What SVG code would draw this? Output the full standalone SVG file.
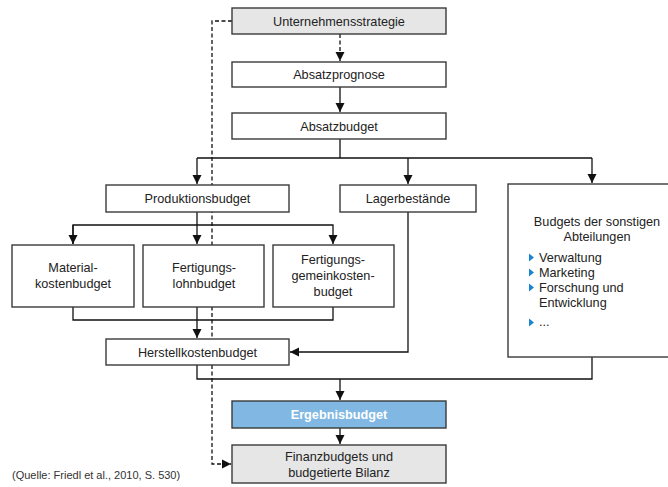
<svg xmlns="http://www.w3.org/2000/svg" width="668" height="487" viewBox="0 0 668 487">
<defs>
<marker id="ah" markerUnits="userSpaceOnUse" markerWidth="10" markerHeight="10" refX="9" refY="5" orient="auto">
<path d="M0,0.5 L9,5 L0,9.5 Z" fill="#111"/>
</marker>
<style>
.box{fill:#fff;stroke:#3a3a3a;stroke-width:1.4}
.gray{fill:#e6e6e6}
.blue{fill:#80b8e3}
text{font-family:"Liberation Sans",Arial,sans-serif;font-size:12.7px;fill:#222;text-anchor:middle}
.lt{text-anchor:start}
.w{fill:#fff;font-weight:bold}
.src{font-size:11px;text-anchor:start;fill:#333}
.c{fill:none;stroke:#111;stroke-width:1.3}
.d{stroke-dasharray:4,2.5}
.bul{fill:#1b86d0}
</style>
</defs>
<g id="connectors">
<path class="c d" d="M340,34 V61" marker-end="url(#ah)"/>
<path class="c" d="M340,87 V112" marker-end="url(#ah)"/>
<path class="c" d="M340,139 V158 M197,158 H592"/>
<path class="c" d="M197,158 V184" marker-end="url(#ah)"/>
<path class="c" d="M408,158 V184" marker-end="url(#ah)"/>
<path class="c" d="M592,158 V183" marker-end="url(#ah)"/>
<path class="c" d="M197,212 V244" marker-end="url(#ah)"/>
<path class="c" d="M73,244 V225 H333 V244" marker-end="url(#ah)"/>
<path class="c" d="M73,225 V244" marker-end="url(#ah)"/>
<path class="c" d="M73,307 V320 H333 V307"/>
<path class="c" d="M197,307 V338" marker-end="url(#ah)"/>
<path class="c" d="M408,212 V352 H290" marker-end="url(#ah)"/>
<path class="c" d="M197,365 V379 H592 V357"/>
<path class="c" d="M340,379 V400" marker-end="url(#ah)"/>
<path class="c" d="M340,428 V444" marker-end="url(#ah)"/>
<path class="c d" d="M232,21 H212 V464 H231" marker-end="url(#ah)"/>
</g>
<g id="unternehmensstrategie">
<rect class="box gray" x="232" y="8" width="214" height="26"/>
<text x="339" y="25.5">Unternehmensstrategie</text>
</g>
<g id="absatzprognose">
<rect class="box" x="232" y="62" width="214" height="25"/>
<text x="339" y="79">Absatzprognose</text>
</g>
<g id="absatzbudget">
<rect class="box" x="232" y="113" width="214" height="26"/>
<text x="339" y="130.5">Absatzbudget</text>
</g>
<g id="produktionsbudget">
<rect class="box" x="106" y="185" width="183" height="27"/>
<text x="197.5" y="203">Produktionsbudget</text>
</g>
<g id="lagerbestaende">
<rect class="box" x="340" y="185" width="136" height="27"/>
<text x="408" y="203">Lagerbestände</text>
</g>
<g id="sonstige">
<rect class="box" x="508" y="184" width="170" height="173"/>
<text x="597" y="226">Budgets der sonstigen</text>
<text x="597" y="241">Abteilungen</text>
<path class="bul" d="M529,253.5 L534,257.5 L529,261.5 Z"/>
<text class="lt" x="539" y="262">Verwaltung</text>
<path class="bul" d="M529,268.5 L534,272.5 L529,276.5 Z"/>
<text class="lt" x="539" y="277">Marketing</text>
<path class="bul" d="M529,283.5 L534,287.5 L529,291.5 Z"/>
<text class="lt" x="539" y="292">Forschung und</text>
<text class="lt" x="539" y="307">Entwicklung</text>
<path class="bul" d="M529,318.5 L534,322.5 L529,326.5 Z"/>
<text class="lt" x="539" y="326">...</text>
</g>
<g id="materialkosten">
<rect class="box" x="12" y="245" width="122" height="62"/>
<text x="73" y="272">Material-</text>
<text x="73" y="288">kostenbudget</text>
</g>
<g id="fertigungslohn">
<rect class="box" x="143" y="245" width="121" height="62"/>
<text x="204" y="272">Fertigungs-</text>
<text x="204" y="288">lohnbudget</text>
</g>
<g id="fertigungsgemein">
<rect class="box" x="273" y="245" width="121" height="62"/>
<text x="333" y="264">Fertigungs-</text>
<text x="333" y="280">gemeinkosten-</text>
<text x="333" y="296">budget</text>
</g>
<g id="herstellkosten">
<rect class="box" x="106" y="339" width="183" height="26"/>
<text x="197.5" y="356.5">Herstellkostenbudget</text>
</g>
<g id="ergebnisbudget">
<rect class="box blue" x="232" y="401" width="214" height="27"/>
<text class="w" x="339" y="419">Ergebnisbudget</text>
</g>
<g id="finanzbudgets">
<rect class="box gray" x="232" y="445" width="214" height="38"/>
<text x="339" y="461">Finanzbudgets und</text>
<text x="339" y="477">budgetierte Bilanz</text>
</g>
<text class="src" x="12" y="479">(Quelle: Friedl et al., 2010, S. 530)</text>
</svg>
